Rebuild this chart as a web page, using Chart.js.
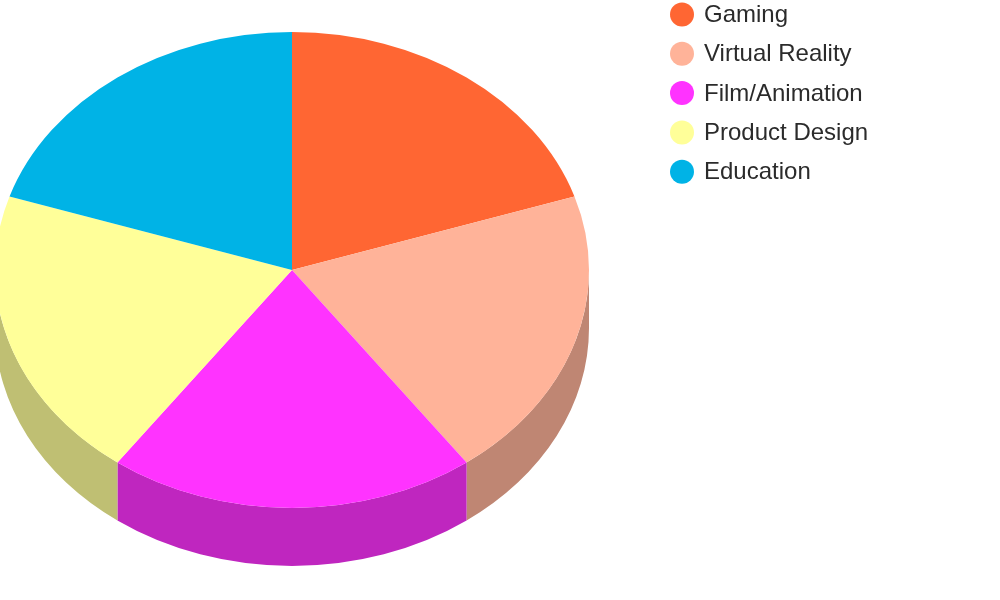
<!DOCTYPE html>
<html>
<head>
<meta charset="utf-8">
<script src="https://cdn.jsdelivr.net/npm/chart.js@4.4.0/dist/chart.umd.min.js"></script>
<style>
    html, body { margin: 0; padding: 0; background: #ffffff; }
    #wrap { position: relative; width: 1000px; height: 600px; }
</style>
</head>
<body>
<div id="wrap"><canvas id="pieChart" width="1000" height="600"></canvas></div>
<script>
// Chart data
const categories = ['Gaming', 'Virtual Reality', 'Film/Animation', 'Product Design', 'Education'];
const shares = [20, 20, 20, 20, 20];
const sliceColors = ['#FF6633', '#FFB399', '#FF33FF', '#FFFF99', '#00B3E6'];

// 3D look: squash the pie vertically and draw the side walls underneath
const TILT = 238 / 297;
const DEPTH = 58;

function darken(hex, f) {
    const n = parseInt(hex.slice(1), 16);
    const r = Math.round(((n >> 16) & 255) * f);
    const g = Math.round(((n >> 8) & 255) * f);
    const b = Math.round((n & 255) * f);
    return `rgb(${r},${g},${b})`;
}

const tiltPlugin = {
    id: 'tilt3d',
    beforeDatasetsDraw(chart) {
        const ctx = chart.ctx;
        const arcs = chart.getDatasetMeta(0).data;
        if (!arcs.length) return;
        const cx = arcs[0].x;
        const cy = arcs[0].y;
        ctx.save();
        ctx.translate(cx, cy);
        ctx.scale(1, TILT);
        ctx.translate(-cx, -cy);

        const d = DEPTH / TILT;
        const TWO_PI = Math.PI * 2;
        arcs.forEach((arc, i) => {
            const r = arc.outerRadius;
            // bring angles into a range where the front half is [0, PI]
            let s = arc.startAngle, e = arc.endAngle;
            while (s < 0) { s += TWO_PI; e += TWO_PI; }
            [[s, e], [s - TWO_PI, e - TWO_PI]].forEach(([a, b]) => {
                const a1 = Math.max(a, 0);
                const a2 = Math.min(b, Math.PI);
                if (a2 <= a1) return;
                ctx.beginPath();
                ctx.arc(cx, cy, r, a1, a2);
                ctx.lineTo(cx + r * Math.cos(a2), cy + d + r * Math.sin(a2));
                ctx.arc(cx, cy + d, r, a2, a1, true);
                ctx.closePath();
                ctx.fillStyle = darken(sliceColors[i], 0.75);
                ctx.fill();
            });
        });
    },
    afterDatasetsDraw(chart) {
        chart.ctx.restore();
    }
};

// Simple legend with round markers at the top right
const legendPlugin = {
    id: 'roundLegend',
    afterDraw(chart) {
        const ctx = chart.ctx;
        const colors = chart.data.datasets[0].backgroundColor;
        ctx.save();
        ctx.font = '24px "Liberation Sans", Arial, sans-serif';
        ctx.textBaseline = 'middle';
        ctx.textAlign = 'left';
        chart.data.labels.forEach((label, i) => {
            const y = 14.5 + i * 39.3;
            ctx.beginPath();
            ctx.arc(682, y, 12, 0, Math.PI * 2);
            ctx.fillStyle = colors[i];
            ctx.fill();
            ctx.fillStyle = '#2b2b2b';
            ctx.fillText(label, 704, y + 1);
        });
        ctx.restore();
    }
};

new Chart(document.getElementById('pieChart'), {
    type: 'pie',
    data: {
        labels: categories,
        datasets: [{
            data: shares,
            backgroundColor: sliceColors,
            borderWidth: 0,
            radius: 297,
            clip: false
        }]
    },
    options: {
        responsive: false,
        animation: false,
        layout: {
            padding: { left: 0, right: 416, top: 0, bottom: 60 }
        },
        plugins: {
            legend: { display: false },
            tooltip: { enabled: false }
        }
    },
    plugins: [tiltPlugin, legendPlugin]
});
</script>
</body>
</html>
